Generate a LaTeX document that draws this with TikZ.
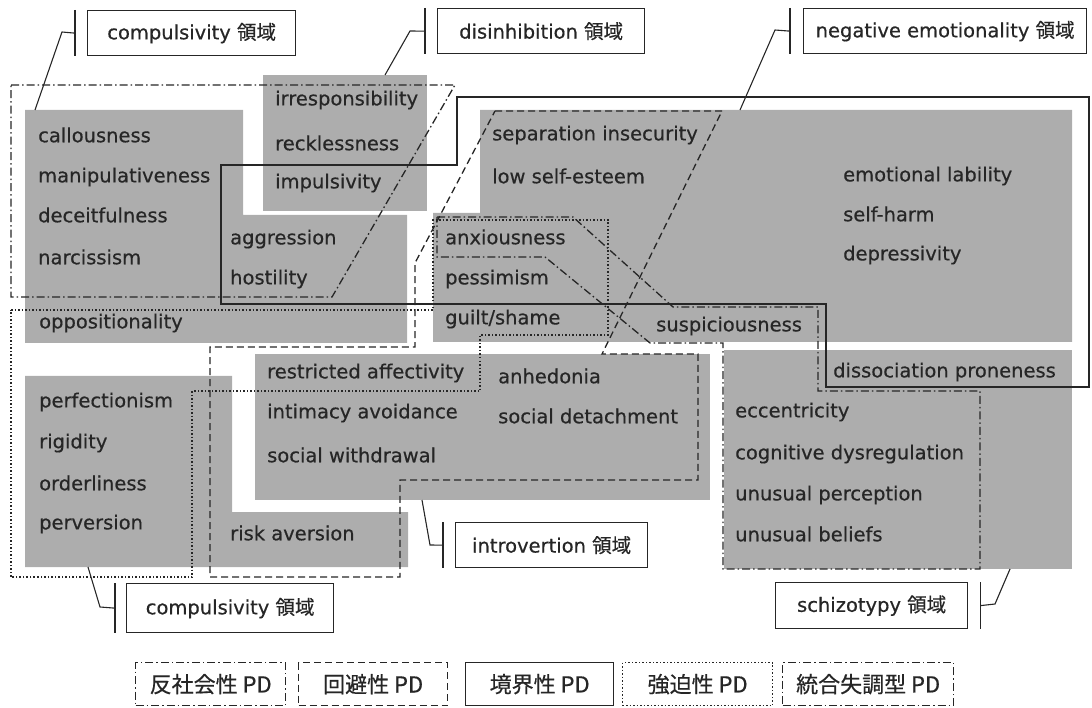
\documentclass[tikz,border=0pt]{standalone}
\usepackage{fontspec}
\setmainfont{DejaVu Sans}[FakeBold=0.5]
\newfontfamily\jpfont{Noto Sans CJK JP}[FakeBold=0.5]
\usepackage{tikz}
\definecolor{traitGray}{rgb}{0.68,0.68,0.68}
\definecolor{inkGray}{rgb}{0.15,0.15,0.15}
\tikzset{
  region/.style={fill=traitGray},
  trait/.style={anchor=west, inner sep=0pt, text=inkGray, font=\fontsize{19.5}{21}\selectfont},
  domainbox/.style={draw=inkGray, line width=1.3pt, anchor=north west, inner sep=0pt, text=inkGray, font=\fontsize{19.5}{21}\selectfont},
  legendbox/.style={domainbox, minimum height=43pt, font=\jpfont\fontsize{22}{23}\selectfont},
  leader/.style={draw=inkGray, line width=1.1pt},
  antisocial/.style={draw=inkGray, line width=1.3pt, dash pattern=on 8pt off 3pt on 1.5pt off 3pt},
  avoidant/.style={draw=inkGray, line width=1.3pt, dash pattern=on 7pt off 4pt},
  borderline/.style={draw=inkGray, line width=1.3pt},
  obsessive/.style={draw=inkGray, line width=1.3pt, dash pattern=on 1.5pt off 2pt},
  schizotypal/.style={draw=inkGray, line width=1.3pt, dash pattern=on 8pt off 3pt on 1.5pt off 3pt}
}

\begin{document}
\begin{tikzpicture}[x=1pt, y=-1pt]
  \useasboundingbox (0,0) rectangle (1092,708);

  % gray domain areas
  \fill[region] (25,110) -- (243,110) -- (243,215) -- (407,215) -- (407,343) -- (25,343) -- cycle;
  \fill[region] (263,75) rectangle (427,211);
  \fill[region] (480,110) -- (1072,110) -- (1072,342) -- (433,342) -- (433,213) -- (480,213) -- cycle;
  \fill[region] (25,376) -- (232,376) -- (232,512) -- (408,512) -- (408,567) -- (25,567) -- cycle;
  \fill[region] (255,354) rectangle (710,500);
  \fill[region] (724,350) rectangle (1072,569);

  % traits
  \node[trait] (callous) at (38,135) {callousness};
  \node[trait] (manip) at (38,177) {manipulativeness};
  \node[trait] (deceit) at (38,215) {deceitfulness};
  \node[trait] (narc) at (38,257) {narcissism};
  \node[trait] (irresp) at (275,100) {irresponsibility};
  \node[trait] (reckless) at (275,143) {recklessness};
  \node[trait] (impuls) at (275,183) {impulsivity};
  \node[trait] (aggr) at (230,239) {aggression};
  \node[trait] (host) at (230,279) {hostility};
  \node[trait] (oppos) at (39,323) {oppositionality};

  \node[trait] (sepins) at (492,135) {separation insecurity};
  \node[trait] (lowse) at (492,176) {low self-esteem};
  \node[trait] (anxious) at (445,237) {anxiousness};
  \node[trait] (pessim) at (445,279) {pessimism};
  \node[trait] (guilt) at (445,319) {guilt/shame};
  \node[trait] (suspic) at (656,326) {suspiciousness};
  \node[trait] (emolab) at (843,176) {emotional lability};
  \node[trait] (selfharm) at (843,214) {self-harm};
  \node[trait] (depress) at (843,255) {depressivity};

  \node[trait] (perfect) at (39,402) {perfectionism};
  \node[trait] (rigid) at (39,443) {rigidity};
  \node[trait] (order) at (39,483) {orderliness};
  \node[trait] (pervers) at (39,524) {perversion};
  \node[trait] (riskav) at (230,533) {risk aversion};

  \node[trait] (restaff) at (267,373) {restricted affectivity};
  \node[trait] (intav) at (267,413) {intimacy avoidance};
  \node[trait] (socwd) at (267,455) {social withdrawal};
  \node[trait] (anhed) at (498,376) {anhedonia};
  \node[trait] (socdet) at (498,416) {social detachment};

  \node[trait] (dissoc) at (833,372) {dissociation proneness};
  \node[trait] (eccent) at (735,412) {eccentricity};
  \node[trait] (cogdys) at (735,454) {cognitive dysregulation};
  \node[trait] (unperc) at (735,495) {unusual perception};
  \node[trait] (unbel) at (735,534) {unusual beliefs};

  % PD outlines
  \draw[antisocial] (11,85) -- (455,85) -- (332,297) -- (11,297) -- cycle;
  \draw[borderline] (221,165) -- (457,165) -- (457,97) -- (1089,97) -- (1089,387) -- (826,387) -- (826,304) -- (221,304) -- cycle;
  \draw[avoidant] (495,111) -- (722,111) -- (602,354) -- (698,354) -- (698,480) -- (400,480) -- (400,577) -- (210,577) -- (210,347) -- (415,347) -- (415,263) -- cycle;
  \draw[obsessive] (11,310) -- (433,310) -- (433,220) -- (608,220) -- (608,335) -- (480,335) -- (480,391) -- (192,391) -- (192,577) -- (11,577) -- cycle;
  \draw[schizotypal] (437,217) -- (573,217) -- (673,307) -- (818,307) -- (818,391) -- (980,391) -- (980,569) -- (723,569) -- (723,343) -- (650,343) -- (545,257) -- (437,257) -- cycle;

  % domain labels
  \node[domainbox, minimum width=208pt, minimum height=45pt] (compTop) at (87,10) {compulsivity {\jpfont 領域}};
  \node[domainbox, minimum width=207pt, minimum height=45pt] (disinh) at (437,8) {disinhibition {\jpfont 領域}};
  \node[domainbox, minimum width=283pt, minimum height=45pt] (negemo) at (803,8) {negative emotionality {\jpfont 領域}};
  \node[domainbox, minimum width=207pt, minimum height=49pt] (compBot) at (126,583) {compulsivity {\jpfont 領域}};
  \node[domainbox, minimum width=192pt, minimum height=45pt] (introv) at (455,522) {introvertion {\jpfont 領域}};
  \node[domainbox, minimum width=192pt, minimum height=46pt] (schizo) at (775,582) {schizotypy {\jpfont 領域}};

  \coordinate (antTip) at (35,110);
  \coordinate (disTip) at (385,75);
  \coordinate (negTip) at (740,110);
  \coordinate (comTip) at (88,567);
  \coordinate (intTip) at (422,500);
  \coordinate (schTip) at (1010,569);

  \draw[leader] (antTip) -- (62,32) -- ([xshift=-12pt]compTop.west);
  \draw[leader] ([xshift=-12pt]compTop.north west) -- ([xshift=-12pt]compTop.south west);
  \draw[leader] (disTip) -- (410,31) -- ([xshift=-12pt]disinh.west);
  \draw[leader] ([xshift=-12pt]disinh.north west) -- ([xshift=-12pt]disinh.south west);
  \draw[leader] (negTip) -- (775,30) -- ([xshift=-13pt]negemo.west);
  \draw[leader] ([xshift=-13pt]negemo.north west) -- ([xshift=-13pt]negemo.south west);
  \draw[leader] (comTip) -- (100,607) -- ([xshift=-11pt]compBot.west);
  \draw[leader] ([xshift=-11pt]compBot.north west) -- ([xshift=-11pt]compBot.south west);
  \draw[leader] (intTip) -- (430,545) -- ([xshift=-12pt]introv.west);
  \draw[leader] ([xshift=-12pt]introv.north west) -- ([xshift=-12pt]introv.south west);
  \draw[leader] (schTip) -- (995,604) -- ([xshift=12pt]schizo.east);
  \draw[leader] ([xshift=12pt]schizo.north east) -- ([xshift=12pt]schizo.south east);

  % legend
  \node[legendbox, antisocial, minimum width=150pt] (legAnti) at (135,662) {反社会性 PD};
  \node[legendbox, avoidant, minimum width=149pt] (legAvoid) at (298,662) {回避性 PD};
  \node[legendbox, borderline, minimum width=148pt] (legBorder) at (465,662) {境界性 PD};
  \node[legendbox, obsessive, minimum width=150pt] (legObs) at (622,662) {強迫性 PD};
  \node[legendbox, schizotypal, minimum width=171pt] (legSchizo) at (782,662) {統合失調型 PD};
\end{tikzpicture}
\end{document}
